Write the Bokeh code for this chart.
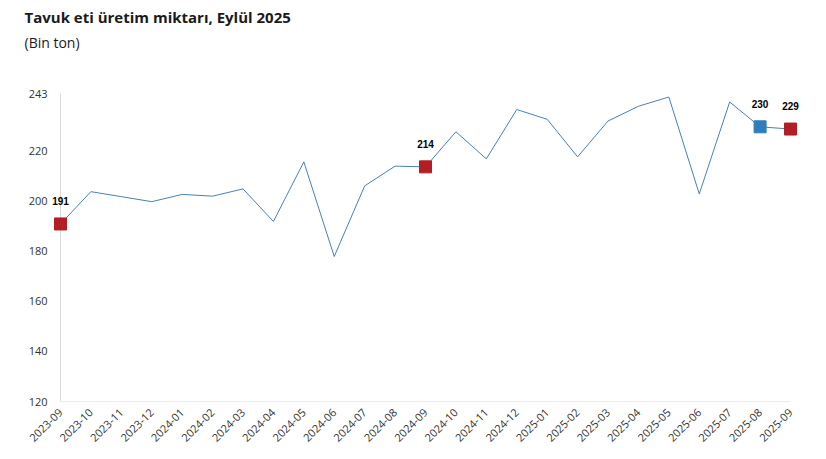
from bokeh.plotting import figure
from bokeh.models import Range1d, FixedTicker, Span, Title, ColumnDataSource
from bokeh.core.properties import value
from bokeh.embed import file_html
from bokeh.resources import INLINE

# ---- data ----
months = ["2023-09", "2023-10", "2023-11", "2023-12", "2024-01", "2024-02", "2024-03",
          "2024-04", "2024-05", "2024-06", "2024-07", "2024-08", "2024-09", "2024-10",
          "2024-11", "2024-12", "2025-01", "2025-02", "2025-03", "2025-04", "2025-05",
          "2025-06", "2025-07", "2025-08", "2025-09"]
production = [190.9, 203.8, 201.8, 199.8, 202.7, 202.0, 204.9,
              191.9, 215.7, 177.9, 206.1, 214.0, 213.7, 227.7,
              216.9, 236.6, 232.7, 217.7, 232.0, 237.9, 241.6,
              202.9, 239.6, 229.7, 228.8]
highlight_idx = [0, 12, 23, 24]
highlight_colors = ["#B11E24", "#B11E24", "#2F7DBA", "#B11E24"]
y_ticks = [120, 140, 160, 180, 200, 220, 243]

title_text = "Tavuk eti üretim miktarı, Eylül 2025"
subtitle_text = "(Bin ton)"

# ---- figure ----
x = list(range(len(months)))
pad = 0.3945
p = figure(width=826, height=459, output_backend="svg", toolbar_location=None, title=None,
           x_range=Range1d(x[0] - pad, x[-1] + pad),
           y_range=Range1d(y_ticks[0], y_ticks[-1]),
           min_border_left=48, min_border_right=24, min_border_top=93, min_border_bottom=58)
p.outline_line_color = None
p.grid.visible = False
p.background_fill_color = "white"
p.border_fill_color = "white"

axis_gray = "#D9D9D9"
p.add_layout(Span(location=x[0], dimension="height", line_color=axis_gray, line_width=1,
                  level="underlay"))
p.segment(x0=[x[0]], y0=[y_ticks[0]], x1=[x[-1]], y1=[y_ticks[0]],
          line_color=axis_gray, line_width=1, level="underlay")

p.line(x, production, line_color="#4A80B4", line_width=1)

hs = ColumnDataSource(dict(
    x=[x[i] for i in highlight_idx],
    y=[production[i] for i in highlight_idx],
    c=highlight_colors,
    t=[str(round(production[i])) for i in highlight_idx],
))
p.scatter("x", "y", source=hs, marker="square", size=12, fill_color="c", line_color="c")
p.text("x", "y", text="t", source=hs, text_align="center", text_baseline="middle",
       y_offset=-23, text_font=value("Liberation Sans"), text_font_style="bold",
       text_font_size="10px", text_color="#000000")

# axes
for ax in (p.xaxis[0], p.yaxis[0]):
    ax.axis_line_color = None
    ax.major_tick_line_color = None
    ax.minor_tick_line_color = None
    ax.major_tick_out = 0
    ax.major_tick_in = 0
    ax.major_label_text_font = "Open Sans"
    ax.major_label_text_color = "#333333"

p.yaxis.ticker = FixedTicker(ticks=y_ticks)
p.yaxis.major_label_text_font_size = "11px"
p.yaxis.major_label_standoff = 1

p.xaxis.ticker = FixedTicker(ticks=x)
p.xaxis.major_label_overrides = {i: m for i, m in zip(x, months)}
p.xaxis.major_label_orientation = 0.785398
p.xaxis.major_label_text_font_size = "11px"
p.xaxis.major_label_standoff = 9

# titles (spacer nearest the frame, then subtitle, then title)
p.add_layout(Title(text=" ", align="left", standoff=36, text_font_size="1px"), "above")
p.add_layout(Title(text=subtitle_text, align="left", offset=-24, standoff=6,
                   text_font="Open Sans", text_font_style="normal", text_font_size="14px",
                   text_color="#1A1A1A"), "above")
p.add_layout(Title(text=title_text, align="left", offset=-24, standoff=2,
                   text_font="Open Sans", text_font_style="bold", text_font_size="15px",
                   text_color="#1A1A1A"), "above")

open("out.html", "w").write(file_html(p, INLINE))
